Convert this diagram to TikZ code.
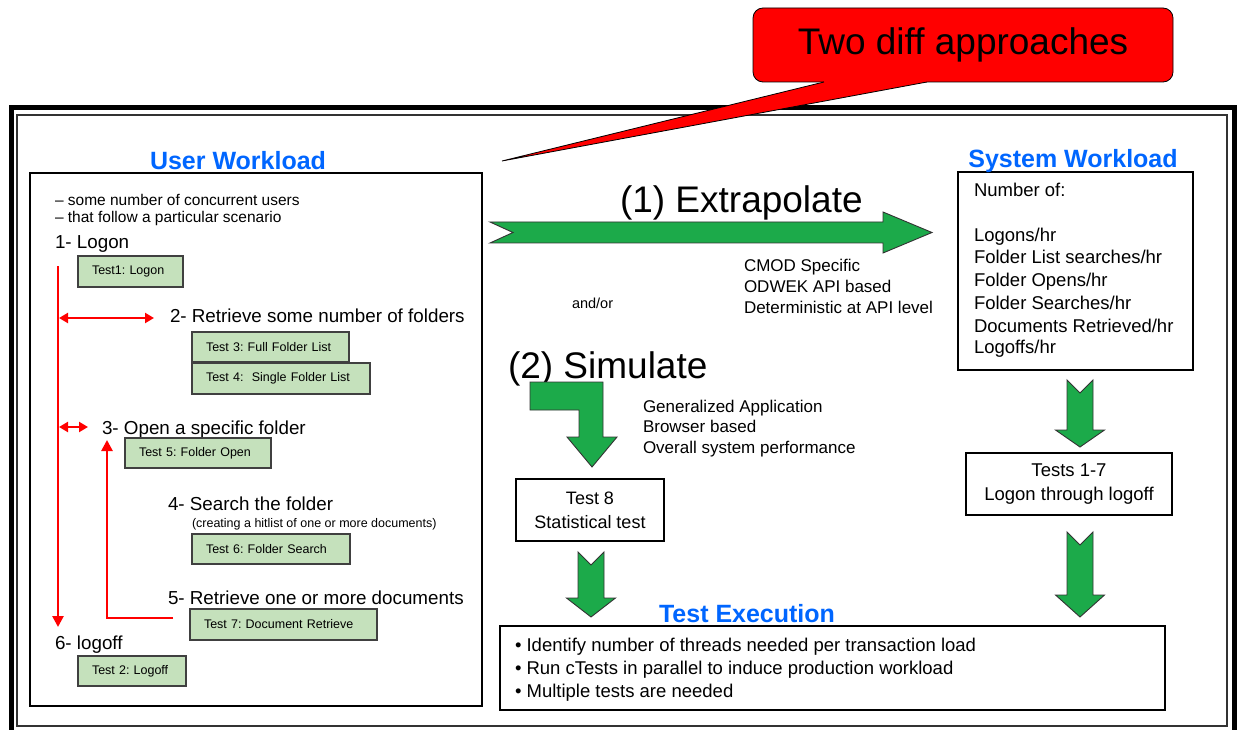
\documentclass[tikz,border=0pt]{standalone}
\usepackage{fontspec}
\setmainfont{Liberation Sans}
\usetikzlibrary{arrows.meta}

\definecolor{titleblue}{RGB}{0,102,255}
\definecolor{arrowgreen}{RGB}{28,170,74}
\definecolor{testgreen}{RGB}{197,225,188}
\definecolor{calloutred}{RGB}{255,0,0}

% vertical block arrow with a notched tail: centre x, tail y, head y, tip y
\newcommand\blockdown[4]{%
  \draw[blockarrow] (#1-13,#2) -- (#1,#2+13) -- (#1+13,#2) -- (#1+13,#3)
    -- (#1+24.5,#3) -- (#1,#4) -- (#1-24.5,#3) -- (#1-13,#3) -- cycle;}

\begin{document}
\frenchspacing
\hyphenpenalty=10000
\exhyphenpenalty=10000
\begin{tikzpicture}[x=1pt, y=-1pt,
  every node/.style={inner sep=0pt, outer sep=0pt},
  txt/.style={anchor=base west, text=black},
  fs/.style={font=\fontsize{#1}{#1}\selectfont},
  title/.style={anchor=base, text=titleblue, font=\bfseries\fontsize{25}{25}\selectfont},
  panel/.style={draw=black, line width=2.5pt, anchor=north west},
  testbox/.style={draw=black!75, line width=1.2pt, fill=testgreen, anchor=north west,
    align=left, inner xsep=14pt, font=\fontsize{12.5}{13}\selectfont},
  redline/.style={draw=red, line width=2.6pt},
  redtip/.style={-{Triangle[length=11pt,width=11pt]}},
  redboth/.style={{Triangle[length=9pt,width=10pt]}-{Triangle[length=9pt,width=10pt]}},
  blockarrow/.style={fill=arrowgreen, draw=black!80, line width=0.9pt, line join=miter},
]
\path[fill=white, use as bounding box] (0,0) rectangle (1237,730);

% double frame round the slide body
\draw[line width=5pt] (11,108) rectangle (1234,733);
\draw[line width=1.4pt, black!80] (17,115) rectangle (1227,726);

% callout
\node[draw=black, line width=0.8pt, fill=calloutred, rounded corners=10pt,
      minimum width=420pt, minimum height=74pt, fs=37] (callout) at (963,45) {Two diff approaches};
\coordinate (ptip) at (502,161);
\coordinate (pl) at (824,82);
\coordinate (pr) at (927,82);
\fill[calloutred] (pl) -- (ptip) -- (pr) -- (927,78) -- (824,78) -- cycle;
\draw[line width=0.8pt, line join=miter] (pl) -- (ptip) -- (pr);

% ---------- user workload ----------
\node[panel, minimum width=452pt, minimum height=533pt] (uwbox) at (30,173) {};
\node[title] (uwtitle) at (238,170) {User Workload};

\node[txt, fs=15.5] (d1) at (55,206) {– some number of concurrent users};
\node[txt, fs=15.5] (d2) at (55,223) {– that follow a particular scenario};

\node[txt, fs=18.8] (s1) at (55,249) {1- Logon};
\node[testbox, text width=77pt, minimum height=31pt] (t1) at (78,256) {Test1: Logon};

\node[txt, fs=18.8] (s2) at (170,322) {2- Retrieve some number of folders};
\node[testbox, text width=129pt, minimum height=30pt] (t3) at (192,332) {Test 3: Full Folder List};
\node[testbox, text width=150pt, minimum height=31pt] (t4) at (192,363) {Test 4:\ \ Single Folder List};

\node[txt, fs=18.8] (s3) at (102,434) {3- Open a specific folder};
\node[testbox, text width=118pt, minimum height=30pt] (t5) at (125,438) {Test 5: Folder Open};

\node[txt, fs=18.8] (s4) at (168,510) {4- Search the folder};
\node[txt, fs=12.5] (s4note) at (192,527) {(creating a hitlist of one or more documents)};
\node[testbox, text width=130pt, minimum height=30pt] (t6) at (192,534) {Test 6: Folder Search};

\node[txt, fs=18.8] (s5) at (168,604) {5- Retrieve one or more documents};
\node[testbox, text width=159pt, minimum height=31pt] (t7) at (190,609) {Test 7: Document Retrieve};

\node[txt, fs=18.8] (s6) at (55,649) {6- logoff};
\node[testbox, text width=80pt, minimum height=30pt] (t2) at (78,656) {Test 2: Logoff};

% scenario flow
\coordinate (flowtop) at (58,266);
\coordinate (flowend) at (58,627);
\draw[redline, redtip] (flowtop) -- (flowend);
\coordinate (loopA) at (59,318);
\coordinate (loopB) at (154,318);
\draw[redline, redboth] (loopA) -- (loopB);
\coordinate (loopC) at (59,427);
\coordinate (loopD) at (88,427);
\draw[redline, redboth] (loopC) -- (loopD);
\coordinate (backA) at (173,618);
\coordinate (backB) at (107,440);
\draw[redline, redtip] (backA) -| (backB);

% ---------- approaches ----------
\draw[blockarrow] (490,222) -- (883,222) -- (883,212) -- (932,232.5) -- (883,253)
  -- (883,243) -- (490,243) -- (513,232.5) -- cycle;
\node[txt, fs=37] (extra) at (620,213) {(1) Extrapolate};
\node[txt, fs=17] (e1) at (744,272) {CMOD Specific};
\node[txt, fs=17] (e2) at (744,292) {ODWEK API based};
\node[txt, fs=17] (e3) at (744,313) {Deterministic at API level};
\node[txt, fs=14.5] (andor) at (572,308) {and/or};

\node[txt, fs=37] (simu) at (508,378) {(2) Simulate};
\draw[blockarrow] (530,382) -- (603,382) -- (603,437) -- (617,437) -- (592,467)
  -- (567,437) -- (579,437) -- (579,410) -- (530,410) -- cycle;
\node[txt, fs=17] (g1) at (643,412) {Generalized Application};
\node[txt, fs=17] (g2) at (643,432) {Browser based};
\node[txt, fs=17] (g3) at (643,453) {Overall system performance};

\node[draw=black, line width=2.5pt, minimum width=148pt, minimum height=62pt,
      align=center, font=\fontsize{18}{24}\selectfont] (test8) at (590,510) {Test 8\\Statistical test};
\blockdown{591}{552}{598}{617}

% ---------- system workload ----------
\node[panel, minimum width=235pt, minimum height=198pt] (swbox) at (958,172) {};
\node[title] (swtitle) at (1073,168) {System Workload};
\node[txt, fs=18.5] (w0) at (974,197) {Number of:};
\node[txt, fs=18.5] (w1) at (974,242) {Logons/hr};
\node[txt, fs=18.5] (w2) at (974,264) {Folder List searches/hr};
\node[txt, fs=18.5] (w3) at (974,287) {Folder Opens/hr};
\node[txt, fs=18.5] (w4) at (974,309) {Folder Searches/hr};
\node[txt, fs=18.5] (w5) at (974,332) {Documents Retrieved/hr};
\node[txt, fs=18.5] (w6) at (974,353) {Logoffs/hr};

\blockdown{1080}{380}{430}{447}
\node[draw=black, line width=2.5pt, minimum width=206pt, minimum height=62pt,
      align=center, font=\fontsize{18.5}{24}\selectfont] (tests17) at (1069,484) {Tests 1-7\\Logon through logoff};
\blockdown{1080}{532}{595}{617}

% ---------- test execution ----------
\node[panel, minimum width=665pt, minimum height=84pt] (exbox) at (500,626) {};
\node[title] (extitle) at (747,622) {Test Execution};
\node[txt, fs=18.5] (x1) at (515,651) {• Identify number of threads needed per transaction load};
\node[txt, fs=18.5] (x2) at (515,674) {• Run cTests in parallel to induce production workload};
\node[txt, fs=18.5] (x3) at (515,697) {• Multiple tests are needed};
\end{tikzpicture}
\end{document}
